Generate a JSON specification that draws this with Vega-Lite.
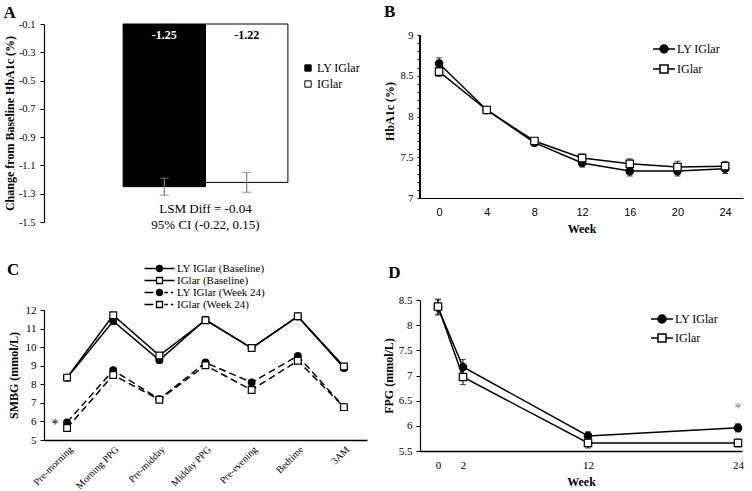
{
  "$schema": "https://vega.github.io/schema/vega-lite/v6.json",
  "background": "white",
  "padding": {"left": 3, "top": 3, "right": 0, "bottom": 0},
  "spacing": 15,
  "resolve": {
    "scale": {"x": "independent", "y": "independent", "shape": "independent", "fill": "independent", "color": "independent", "strokeDash": "independent"},
    "legend": {"shape": "independent", "fill": "independent", "color": "independent", "strokeDash": "independent"}
  },
  "config": {
    "view": {"stroke": null},
    "font": "Liberation Serif",
    "axis": {"grid": false, "domainColor": "black", "tickColor": "black", "labelColor": "black", "titleColor": "black", "labelFont": "Liberation Serif", "titleFont": "Liberation Serif", "labelFontSize": 11, "titleFontSize": 12, "titleFontWeight": "bold", "domainWidth": 1.2, "tickSize": 4, "labelPadding": 3, "labelOverlap": false},
    "title": {"font": "Liberation Serif", "fontSize": 17, "fontWeight": "bold", "anchor": "start", "frame": "bounds", "color": "black"},
    "legend": {"labelFont": "Liberation Serif", "labelFontSize": 12, "labelColor": "black", "padding": 0}
  },
  "hconcat": [
    {
      "vconcat": [
        {
          "title": {"text": "A", "offset": 3, "dy": 6},
          "width": 323,
          "height": 198,
          "data": {"values": [
            {"group": "LY IGlar", "value": -1.25, "lo": -1.31, "hi": -1.19, "label": "-1.25"},
            {"group": "IGlar", "value": -1.22, "lo": -1.29, "hi": -1.15, "label": "-1.22"}
          ]},
          "encoding": {
            "x": {"field": "group", "type": "nominal", "sort": ["LY IGlar", "IGlar"], "scale": {"paddingInner": 0, "paddingOuter": 0.96}, "axis": null}
          },
          "layer": [
            {
              "mark": {"type": "bar", "stroke": "black", "strokeWidth": 1},
              "encoding": {
                "y": {"field": "value", "type": "quantitative", "scale": {"domain": [-1.5, -0.1], "nice": false, "zero": false},
                      "axis": {"title": "Change from Baseline HbA1c (%)", "values": [-1.5, -1.3, -1.1, -0.9, -0.7, -0.5, -0.3, -0.1], "labelExpr": "replace(format(datum.value, '.1f'), '\u2212', '-')", "labelOverlap": false, "labelFontSize": 10.5, "labelPadding": 5, "titlePadding": 2}},
                "y2": {"datum": -0.1},
                "fill": {"field": "group", "type": "nominal", "scale": {"domain": ["LY IGlar", "IGlar"], "range": ["black", "white"]},
                         "legend": {"title": null, "orient": "none", "legendX": 258, "legendY": 38, "symbolType": "square", "symbolSize": 40, "symbolStrokeColor": "black", "symbolStrokeWidth": 1, "labelFontSize": 12, "labelOffset": 3, "rowPadding": 4}}
              }
            },
            {
              "mark": {"type": "rule", "color": "black", "strokeWidth": 1.5},
              "encoding": {
                "x": {"value": 0}, "x2": {"value": {"expr": "width"}},
                "y": {"datum": -0.1, "axis": {"title": "Change from Baseline HbA1c (%)", "values": [-1.5, -1.3, -1.1, -0.9, -0.7, -0.5, -0.3, -0.1], "labelExpr": "replace(format(datum.value, '.1f'), '\u2212', '-')", "labelOverlap": false, "labelFontSize": 10.5, "labelPadding": 5, "titlePadding": 2}}
              }
            },
            {"mark": {"type": "rule", "color": "#7f7f7f", "strokeWidth": 1.2}, "encoding": {"y": {"field": "lo", "type": "quantitative", "axis": {"title": "Change from Baseline HbA1c (%)", "values": [-1.5, -1.3, -1.1, -0.9, -0.7, -0.5, -0.3, -0.1], "labelExpr": "replace(format(datum.value, '.1f'), '\u2212', '-')", "labelOverlap": false, "labelFontSize": 10.5, "labelPadding": 5, "titlePadding": 2}}, "y2": {"field": "hi"}}},
            {"mark": {"type": "tick", "color": "#7f7f7f", "size": 9, "thickness": 1.2, "orient": "horizontal"}, "encoding": {"y": {"field": "lo", "type": "quantitative", "axis": {"title": "Change from Baseline HbA1c (%)", "values": [-1.5, -1.3, -1.1, -0.9, -0.7, -0.5, -0.3, -0.1], "labelExpr": "replace(format(datum.value, '.1f'), '\u2212', '-')", "labelOverlap": false, "labelFontSize": 10.5, "labelPadding": 5, "titlePadding": 2}}}},
            {"mark": {"type": "tick", "color": "#7f7f7f", "size": 9, "thickness": 1.2, "orient": "horizontal"}, "encoding": {"y": {"field": "hi", "type": "quantitative", "axis": {"title": "Change from Baseline HbA1c (%)", "values": [-1.5, -1.3, -1.1, -0.9, -0.7, -0.5, -0.3, -0.1], "labelExpr": "replace(format(datum.value, '.1f'), '\u2212', '-')", "labelOverlap": false, "labelFontSize": 10.5, "labelPadding": 5, "titlePadding": 2}}}},
            {
              "mark": {"type": "text", "fontWeight": "bold", "fontSize": 12, "baseline": "top", "dy": 6},
              "encoding": {
                "y": {"datum": -0.1, "axis": {"title": "Change from Baseline HbA1c (%)", "values": [-1.5, -1.3, -1.1, -0.9, -0.7, -0.5, -0.3, -0.1], "labelExpr": "replace(format(datum.value, '.1f'), '\u2212', '-')", "labelOverlap": false, "labelFontSize": 10.5, "labelPadding": 5, "titlePadding": 2}},
                "text": {"field": "label"},
                "color": {"field": "group", "type": "nominal", "scale": {"domain": ["LY IGlar", "IGlar"], "range": ["white", "black"]}, "legend": null}
              }
            },
            {
              "data": {"values": [{"note": "LSM Diff = -0.04\n95% CI (-0.22, 0.15)"}]},
              "mark": {"type": "text", "fontSize": 13, "baseline": "top", "lineBreak": "\n", "lineHeight": 16, "fill": "black"},
              "encoding": {
                "x": {"datum": "LY IGlar", "bandPosition": 1},
                "y": {"datum": -1.365, "axis": {"title": "Change from Baseline HbA1c (%)", "values": [-1.5, -1.3, -1.1, -0.9, -0.7, -0.5, -0.3, -0.1], "labelExpr": "replace(format(datum.value, '.1f'), '\u2212', '-')", "labelOverlap": false, "labelFontSize": 10.5, "labelPadding": 5, "titlePadding": 2}},
                "text": {"field": "note"}
              }
            }
          ]
        },
        {
          "title": {"text": "C", "offset": 2, "dy": 18},
          "width": 323,
          "height": 130,
          "data": {"values": [
            {"time": "Pre-morning", "series": "LY IGlar (Baseline)", "period": "Baseline", "value": 8.35},
            {"time": "Morning PPG", "series": "LY IGlar (Baseline)", "period": "Baseline", "value": 11.4},
            {"time": "Pre-midday", "series": "LY IGlar (Baseline)", "period": "Baseline", "value": 9.3},
            {"time": "Midday PPG", "series": "LY IGlar (Baseline)", "period": "Baseline", "value": 11.48},
            {"time": "Pre-evening", "series": "LY IGlar (Baseline)", "period": "Baseline", "value": 9.95},
            {"time": "Bedtime", "series": "LY IGlar (Baseline)", "period": "Baseline", "value": 11.65},
            {"time": "3AM", "series": "LY IGlar (Baseline)", "period": "Baseline", "value": 8.88},
            {"time": "Pre-morning", "series": "IGlar (Baseline)", "period": "Baseline", "value": 8.36},
            {"time": "Morning PPG", "series": "IGlar (Baseline)", "period": "Baseline", "value": 11.72},
            {"time": "Pre-midday", "series": "IGlar (Baseline)", "period": "Baseline", "value": 9.55},
            {"time": "Midday PPG", "series": "IGlar (Baseline)", "period": "Baseline", "value": 11.45},
            {"time": "Pre-evening", "series": "IGlar (Baseline)", "period": "Baseline", "value": 9.95},
            {"time": "Bedtime", "series": "IGlar (Baseline)", "period": "Baseline", "value": 11.66},
            {"time": "3AM", "series": "IGlar (Baseline)", "period": "Baseline", "value": 8.96},
            {"time": "Pre-morning", "series": "LY IGlar (Week 24)", "period": "Week 24", "value": 5.95},
            {"time": "Morning PPG", "series": "LY IGlar (Week 24)", "period": "Week 24", "value": 8.76},
            {"time": "Pre-midday", "series": "LY IGlar (Week 24)", "period": "Week 24", "value": 7.2},
            {"time": "Midday PPG", "series": "LY IGlar (Week 24)", "period": "Week 24", "value": 9.17},
            {"time": "Pre-evening", "series": "LY IGlar (Week 24)", "period": "Week 24", "value": 8.1},
            {"time": "Bedtime", "series": "LY IGlar (Week 24)", "period": "Week 24", "value": 9.53},
            {"time": "3AM", "series": "LY IGlar (Week 24)", "period": "Week 24", "value": 6.78},
            {"time": "Pre-morning", "series": "IGlar (Week 24)", "period": "Week 24", "value": 5.64},
            {"time": "Morning PPG", "series": "IGlar (Week 24)", "period": "Week 24", "value": 8.5},
            {"time": "Pre-midday", "series": "IGlar (Week 24)", "period": "Week 24", "value": 7.17},
            {"time": "Midday PPG", "series": "IGlar (Week 24)", "period": "Week 24", "value": 9.02},
            {"time": "Pre-evening", "series": "IGlar (Week 24)", "period": "Week 24", "value": 7.69},
            {"time": "Bedtime", "series": "IGlar (Week 24)", "period": "Week 24", "value": 9.27},
            {"time": "3AM", "series": "IGlar (Week 24)", "period": "Week 24", "value": 6.77}
          ]},
          "encoding": {
            "x": {"field": "time", "type": "ordinal", "sort": ["Pre-morning", "Morning PPG", "Pre-midday", "Midday PPG", "Pre-evening", "Bedtime", "3AM"], "scale": {"type": "point", "padding": 0.5},
                  "axis": {"labelAngle": -45, "ticks": false, "title": null, "labelPadding": 4, "labelFontSize": 10, "domainWidth": 1.5, "labelOverlap": false}},
            "y": {"field": "value", "type": "quantitative", "title": "SMBG (mmol/L)", "scale": {"domain": [5, 12], "nice": false, "zero": false},
                  "axis": {"values": [5, 6, 7, 8, 9, 10, 11, 12], "titlePadding": 5, "labelPadding": 4, "labelOverlap": false}}
          },
          "layer": [
            {
              "mark": {"type": "line", "color": "black", "strokeWidth": 1.5},
              "encoding": {
                "detail": {"field": "series"},
                "strokeDash": {"field": "period", "type": "nominal", "scale": {"domain": ["Baseline", "Week 24"], "range": [[1, 0], [7, 4]]}, "legend": null}
              }
            },
            {
              "mark": {"type": "point", "filled": true, "size": 45, "stroke": "black", "strokeWidth": 1.2, "opacity": 1},
              "encoding": {
                "shape": {"field": "series", "type": "nominal", "scale": {"domain": ["IGlar (Week 24)", "LY IGlar (Week 24)", "IGlar (Baseline)", "LY IGlar (Baseline)"], "range": ["square", "circle", "square", "circle"]}, "legend": null},
                "fill": {"field": "series", "type": "nominal", "scale": {"domain": ["LY IGlar (Baseline)", "IGlar (Baseline)", "LY IGlar (Week 24)", "IGlar (Week 24)"], "range": ["black", "white", "black", "white"]},
                         "legend": {"title": null, "orient": "none", "legendX": 110, "legendY": -47, "symbolSize": 36, "labelOffset": 12, "rowPadding": -5, "labelFontSize": 11,
                                    "encoding": {"symbols": {
                                      "shape": {"value": {"expr": "datum.value === 'LY IGlar (Baseline)' ? 'M-5,0H-1M1,0H5M1,0A1,1 0 1,1 -1,0A1,1 0 1,1 1,0Z' : datum.value === 'IGlar (Baseline)' ? 'M-5,0H-1M1,0H5M-1,-1H1V1H-1Z' : datum.value === 'LY IGlar (Week 24)' ? 'M-5,0H-2M1.6,0H2.8M3.8,0H4.6M1,0A1,1 0 1,1 -1,0A1,1 0 1,1 1,0Z' : 'M-5,0H-2M1.6,0H2.8M3.8,0H4.6M-1,-1H1V1H-1Z'"}},
                                      "stroke": {"value": "black"}, "strokeWidth": {"value": 1.3}, "opacity": {"value": 1}}}}}
              }
            },
            {
              "data": {"values": [{"time": "Pre-morning", "value": 5.95, "mark": "*"}]},
              "mark": {"type": "text", "fontSize": 14, "dx": -12, "dy": 3, "fill": "black"},
              "encoding": {"text": {"field": "mark"}}
            }
          ]
        }
      ],
      "spacing": 29,
      "resolve": {
        "scale": {"x": "independent", "y": "independent", "shape": "independent", "fill": "independent", "color": "independent", "strokeDash": "independent"},
        "legend": {"shape": "independent", "fill": "independent", "color": "independent", "strokeDash": "independent"}
      }
    },
    {
      "vconcat": [
        {
          "title": {"text": "B", "offset": 3},
          "width": 323,
          "height": 174,
          "data": {"values": [
            {"week": 0, "series": "LY IGlar", "value": 8.65, "lo": 8.58, "hi": 8.72},
            {"week": 4, "series": "LY IGlar", "value": 8.08, "lo": 8.04, "hi": 8.12},
            {"week": 8, "series": "LY IGlar", "value": 7.68, "lo": 7.64, "hi": 7.72},
            {"week": 12, "series": "LY IGlar", "value": 7.43, "lo": 7.38, "hi": 7.48},
            {"week": 16, "series": "LY IGlar", "value": 7.33, "lo": 7.27, "hi": 7.39},
            {"week": 20, "series": "LY IGlar", "value": 7.33, "lo": 7.27, "hi": 7.39},
            {"week": 24, "series": "LY IGlar", "value": 7.36, "lo": 7.30, "hi": 7.42},
            {"week": 0, "series": "IGlar", "value": 8.55, "lo": 8.49, "hi": 8.61},
            {"week": 4, "series": "IGlar", "value": 8.08, "lo": 8.04, "hi": 8.12},
            {"week": 8, "series": "IGlar", "value": 7.70, "lo": 7.66, "hi": 7.74},
            {"week": 12, "series": "IGlar", "value": 7.49, "lo": 7.44, "hi": 7.54},
            {"week": 16, "series": "IGlar", "value": 7.42, "lo": 7.36, "hi": 7.48},
            {"week": 20, "series": "IGlar", "value": 7.38, "lo": 7.31, "hi": 7.45},
            {"week": 24, "series": "IGlar", "value": 7.39, "lo": 7.33, "hi": 7.45}
          ]},
          "encoding": {
            "x": {"field": "week", "type": "quantitative", "scale": {"domain": [-1.6, 25.5], "nice": false, "zero": false},
                  "axis": {"values": [0, 4, 8, 12, 16, 20, 24], "ticks": false, "title": "Week", "labelFont": "Liberation Sans", "labelPadding": 8, "titlePadding": 6, "labelOverlap": false}}
          },
          "layer": [
            {
              "mark": {"type": "rule", "color": "black", "strokeWidth": 1.2},
              "encoding": {
                "x": {"datum": -1.6},
                "y": {"datum": 7, "scale": {"domain": [7, 9.135], "nice": false, "zero": false}, "axis": {"title": "HbA1c (%)", "domain": false, "values": [7, 7.1, 7.2, 7.3, 7.4, 7.5, 7.6, 7.7, 7.8, 7.9, 8, 8.1, 8.2, 8.3, 8.4, 8.5, 8.6, 8.7, 8.8, 8.9, 9], "labelExpr": "round(datum.value * 10) % 5 == 0 ? format(datum.value, '~g') : ''", "labelOverlap": false, "labelFontSize": 10.5, "tickSize": 3, "labelPadding": 4, "titlePadding": 3}},
                "y2": {"datum": 9}
              }
            },
            {"mark": {"type": "rule", "color": "black", "strokeWidth": 1}, "encoding": {"y": {"field": "lo", "type": "quantitative", "axis": {"title": "HbA1c (%)", "domain": false, "values": [7, 7.1, 7.2, 7.3, 7.4, 7.5, 7.6, 7.7, 7.8, 7.9, 8, 8.1, 8.2, 8.3, 8.4, 8.5, 8.6, 8.7, 8.8, 8.9, 9], "labelExpr": "round(datum.value * 10) % 5 == 0 ? format(datum.value, '~g') : ''", "labelOverlap": false, "labelFontSize": 10.5, "tickSize": 3, "labelPadding": 4, "titlePadding": 3}}, "y2": {"field": "hi"}}},
            {"mark": {"type": "tick", "color": "black", "size": 6, "thickness": 1, "orient": "horizontal"}, "encoding": {"y": {"field": "lo", "type": "quantitative", "axis": {"title": "HbA1c (%)", "domain": false, "values": [7, 7.1, 7.2, 7.3, 7.4, 7.5, 7.6, 7.7, 7.8, 7.9, 8, 8.1, 8.2, 8.3, 8.4, 8.5, 8.6, 8.7, 8.8, 8.9, 9], "labelExpr": "round(datum.value * 10) % 5 == 0 ? format(datum.value, '~g') : ''", "labelOverlap": false, "labelFontSize": 10.5, "tickSize": 3, "labelPadding": 4, "titlePadding": 3}}}},
            {"mark": {"type": "tick", "color": "black", "size": 6, "thickness": 1, "orient": "horizontal"}, "encoding": {"y": {"field": "hi", "type": "quantitative", "axis": {"title": "HbA1c (%)", "domain": false, "values": [7, 7.1, 7.2, 7.3, 7.4, 7.5, 7.6, 7.7, 7.8, 7.9, 8, 8.1, 8.2, 8.3, 8.4, 8.5, 8.6, 8.7, 8.8, 8.9, 9], "labelExpr": "round(datum.value * 10) % 5 == 0 ? format(datum.value, '~g') : ''", "labelOverlap": false, "labelFontSize": 10.5, "tickSize": 3, "labelPadding": 4, "titlePadding": 3}}}},
            {
              "mark": {"type": "line", "color": "black", "strokeWidth": 1.5},
              "encoding": {
                "y": {"field": "value", "type": "quantitative", "axis": {"title": "HbA1c (%)", "domain": false, "values": [7, 7.1, 7.2, 7.3, 7.4, 7.5, 7.6, 7.7, 7.8, 7.9, 8, 8.1, 8.2, 8.3, 8.4, 8.5, 8.6, 8.7, 8.8, 8.9, 9], "labelExpr": "round(datum.value * 10) % 5 == 0 ? format(datum.value, '~g') : ''", "labelOverlap": false, "labelFontSize": 10.5, "tickSize": 3, "labelPadding": 4, "titlePadding": 3}},
                "detail": {"field": "series"}
              }
            },
            {
              "mark": {"type": "point", "filled": true, "size": 55, "stroke": "black", "strokeWidth": 1.2, "opacity": 1},
              "encoding": {
                "y": {"field": "value", "type": "quantitative", "axis": {"title": "HbA1c (%)", "domain": false, "values": [7, 7.1, 7.2, 7.3, 7.4, 7.5, 7.6, 7.7, 7.8, 7.9, 8, 8.1, 8.2, 8.3, 8.4, 8.5, 8.6, 8.7, 8.8, 8.9, 9], "labelExpr": "round(datum.value * 10) % 5 == 0 ? format(datum.value, '~g') : ''", "labelOverlap": false, "labelFontSize": 10.5, "tickSize": 3, "labelPadding": 4, "titlePadding": 3}},
                "shape": {"field": "series", "type": "nominal", "scale": {"domain": ["IGlar", "LY IGlar"], "range": ["square", "circle"]}, "legend": null},
                "fill": {"field": "series", "type": "nominal", "scale": {"domain": ["LY IGlar", "IGlar"], "range": ["black", "white"]},
                         "legend": {"title": null, "orient": "none", "legendX": 238, "legendY": 19, "symbolSize": 64, "labelOffset": 7, "rowPadding": 6, "labelFontSize": 12,
                                    "encoding": {"symbols": {
                                      "shape": {"value": {"expr": "datum.value === 'LY IGlar' ? 'M-2.75,0H-1M1,0H2.75M1,0A1,1 0 1,1 -1,0A1,1 0 1,1 1,0Z' : 'M-2.75,0H-1M1,0H2.75M-1,-1H1V1H-1Z'"}},
                                      "stroke": {"value": "black"}, "strokeWidth": {"value": 1.5}, "opacity": {"value": 1}}}}}
              }
            }
          ]
        },
        {
          "title": {"text": "D", "offset": 12, "dx": 6},
          "width": 322,
          "height": 151,
          "data": {"values": [
            {"week": 0, "series": "LY IGlar", "value": 8.35, "lo": 8.2, "hi": 8.5},
            {"week": 2, "series": "LY IGlar", "value": 7.17, "lo": 7.03, "hi": 7.32},
            {"week": 12, "series": "LY IGlar", "value": 5.8, "lo": 5.72, "hi": 5.88},
            {"week": 24, "series": "LY IGlar", "value": 5.96, "lo": 5.88, "hi": 6.04},
            {"week": 0, "series": "IGlar", "value": 8.37, "lo": 8.22, "hi": 8.52},
            {"week": 2, "series": "IGlar", "value": 6.97, "lo": 6.82, "hi": 7.12},
            {"week": 12, "series": "IGlar", "value": 5.66, "lo": 5.56, "hi": 5.76},
            {"week": 24, "series": "IGlar", "value": 5.66, "lo": 5.58, "hi": 5.74}
          ]},
          "encoding": {
            "x": {"field": "week", "type": "quantitative", "scale": {"domain": [-1.44, 24.32], "nice": false, "zero": false},
                  "axis": {"values": [0, 2, 12, 24], "ticks": false, "title": "Week", "labelPadding": 8, "titlePadding": 6, "domainWidth": 1.5, "labelOverlap": false}}
          },
          "layer": [
            {"mark": {"type": "rule", "color": "black", "strokeWidth": 1}, "encoding": {"y": {"field": "lo", "type": "quantitative", "axis": {"title": "FPG (mmol/L)", "values": [5.5, 6, 6.5, 7, 7.5, 8, 8.5], "labelExpr": "format(datum.value, '~g')", "labelOverlap": false, "labelPadding": 4, "titlePadding": 3}}, "y2": {"field": "hi"}}},
            {"mark": {"type": "tick", "color": "black", "size": 6, "thickness": 1, "orient": "horizontal"}, "encoding": {"y": {"field": "lo", "type": "quantitative", "axis": {"title": "FPG (mmol/L)", "values": [5.5, 6, 6.5, 7, 7.5, 8, 8.5], "labelExpr": "format(datum.value, '~g')", "labelOverlap": false, "labelPadding": 4, "titlePadding": 3}}}},
            {"mark": {"type": "tick", "color": "black", "size": 6, "thickness": 1, "orient": "horizontal"}, "encoding": {"y": {"field": "hi", "type": "quantitative", "axis": {"title": "FPG (mmol/L)", "values": [5.5, 6, 6.5, 7, 7.5, 8, 8.5], "labelExpr": "format(datum.value, '~g')", "labelOverlap": false, "labelPadding": 4, "titlePadding": 3}}}},
            {
              "mark": {"type": "line", "color": "black", "strokeWidth": 1.5},
              "encoding": {
                "y": {"field": "value", "type": "quantitative", "scale": {"domain": [5.5, 8.5], "nice": false, "zero": false},
                      "axis": {"title": "FPG (mmol/L)", "values": [5.5, 6, 6.5, 7, 7.5, 8, 8.5], "labelExpr": "format(datum.value, '~g')", "labelOverlap": false, "labelPadding": 4, "titlePadding": 3}},
                "detail": {"field": "series"}
              }
            },
            {
              "mark": {"type": "point", "filled": true, "size": 55, "stroke": "black", "strokeWidth": 1.2, "opacity": 1},
              "encoding": {
                "y": {"field": "value", "type": "quantitative", "axis": {"title": "FPG (mmol/L)", "values": [5.5, 6, 6.5, 7, 7.5, 8, 8.5], "labelExpr": "format(datum.value, '~g')", "labelOverlap": false, "labelPadding": 4, "titlePadding": 3}},
                "shape": {"field": "series", "type": "nominal", "scale": {"domain": ["IGlar", "LY IGlar"], "range": ["square", "circle"]}, "legend": null},
                "fill": {"field": "series", "type": "nominal", "scale": {"domain": ["LY IGlar", "IGlar"], "range": ["black", "white"]},
                         "legend": {"title": null, "orient": "none", "legendX": 236, "legendY": 13, "symbolSize": 64, "labelOffset": 7, "rowPadding": 5, "labelFontSize": 12,
                                    "encoding": {"symbols": {
                                      "shape": {"value": {"expr": "datum.value === 'LY IGlar' ? 'M-2.75,0H-1M1,0H2.75M1,0A1,1 0 1,1 -1,0A1,1 0 1,1 1,0Z' : 'M-2.75,0H-1M1,0H2.75M-1,-1H1V1H-1Z'"}},
                                      "stroke": {"value": "black"}, "strokeWidth": {"value": 1.5}, "opacity": {"value": 1}}}}}
              }
            },
            {
              "data": {"values": [{"week": 24, "value": 6.4, "mark": "*"}]},
              "mark": {"type": "text", "fontSize": 14, "dy": 3, "fill": "#7f7f7f"},
              "encoding": {"y": {"field": "value", "type": "quantitative", "axis": {"title": "FPG (mmol/L)", "values": [5.5, 6, 6.5, 7, 7.5, 8, 8.5], "labelExpr": "format(datum.value, '~g')", "labelOverlap": false, "labelPadding": 4, "titlePadding": 3}}, "text": {"field": "mark"}}
            }
          ]
        }
      ],
      "spacing": 30,
      "resolve": {
        "scale": {"x": "independent", "y": "independent", "shape": "independent", "fill": "independent", "color": "independent", "strokeDash": "independent"},
        "legend": {"shape": "independent", "fill": "independent", "color": "independent", "strokeDash": "independent"}
      }
    }
  ]
}
